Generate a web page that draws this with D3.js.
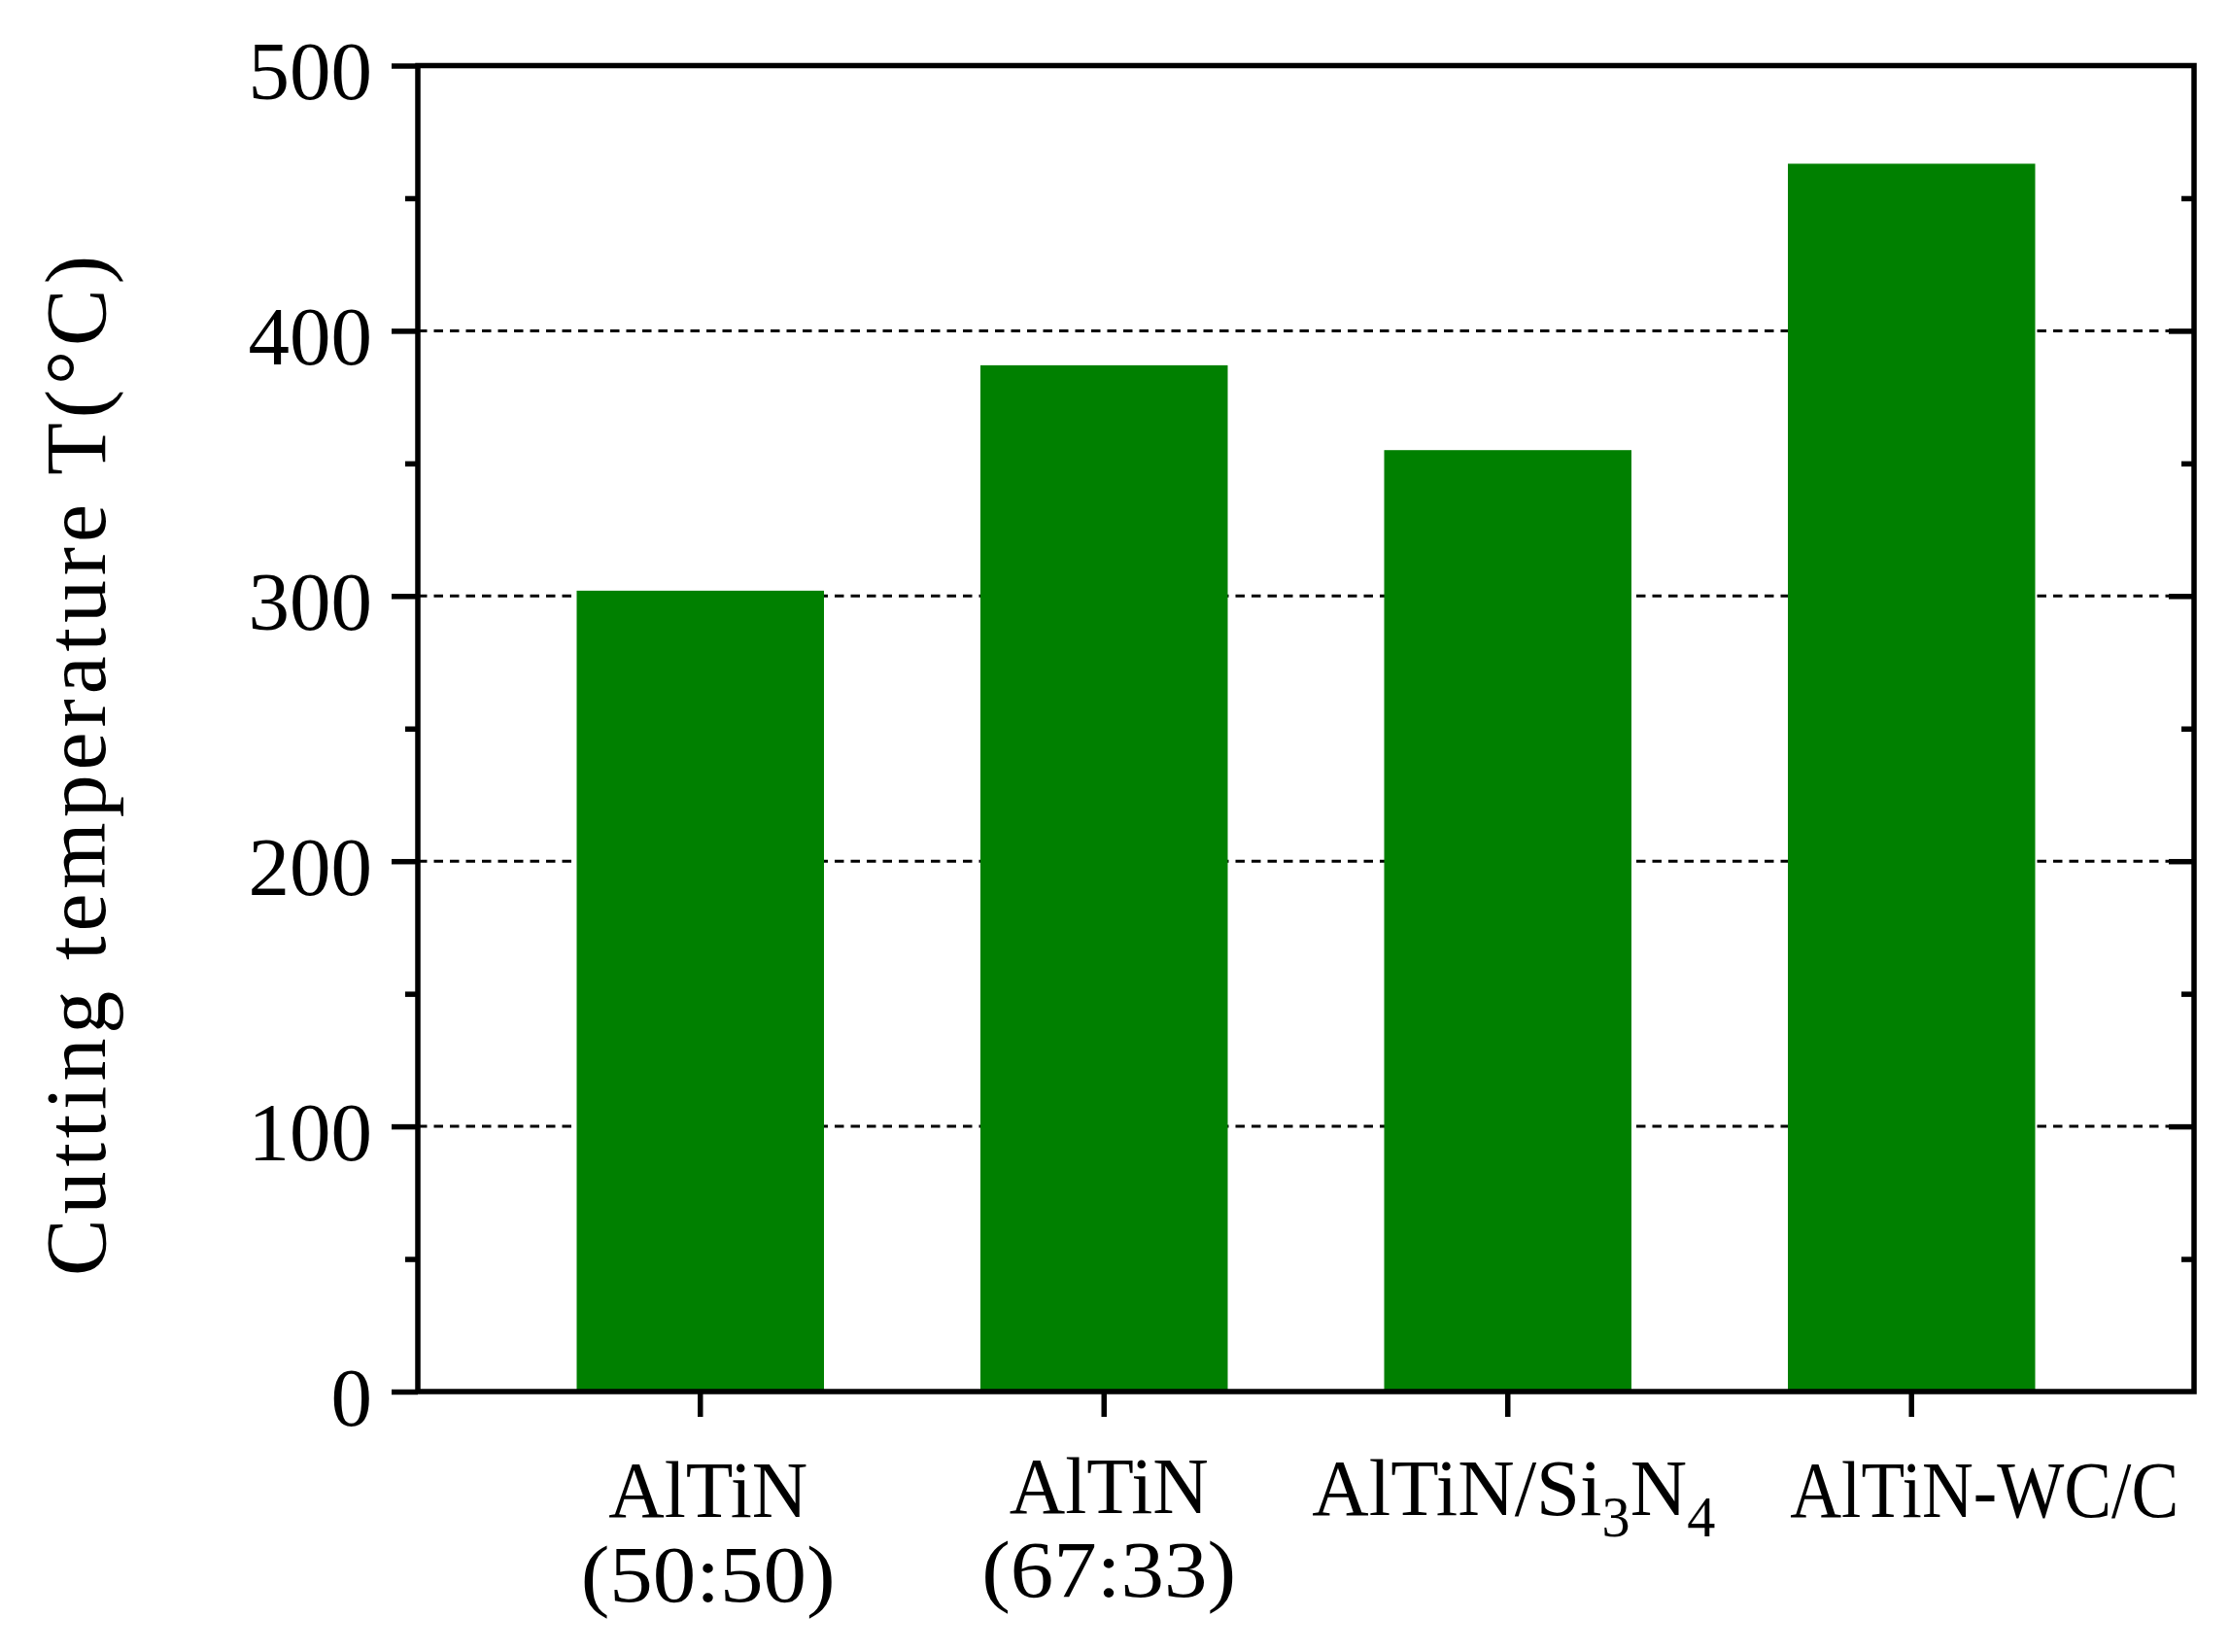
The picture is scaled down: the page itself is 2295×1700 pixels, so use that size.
<!DOCTYPE html>
<html>
<head>
<meta charset="utf-8">
<script src="https://cdn.jsdelivr.net/npm/d3@7"></script>
<style>
  html, body { margin: 0; padding: 0; background: #fff; }
  svg { display: block; }
  text { font-family: "Liberation Serif", "Times New Roman", serif; fill: #000; }
</style>
</head>
<body>
<svg id="chart" width="2295" height="1700"></svg>
<script>
// ---- data ----
const categories = ["AlTiN (50:50)", "AlTiN (67:33)", "AlTiN/Si3N4", "AlTiN-WC/C"];
const temperatures = [302, 387, 355, 463];
const majorTicks = [0, 100, 200, 300, 400, 500];
const minorTicks = [50, 150, 250, 350, 450];
const gridValues = [100, 200, 300, 400];
const yLabel = "Cutting temperature T(\u00B0C)";

// ---- layout ----
const W = 2295, H = 1700;
const L = 430, R = 2258, T = 67.5, B = 1432;
const green = "#008000";
const axisW = 5.5;

const svg = d3.select("#chart");

const x = d3.scaleBand().domain(categories).range([L, R])
  .paddingInner(0.3875).paddingOuter(0.3935);
const y = d3.scaleLinear().domain([0, 500]).range([B, T]);

// gridlines
svg.append("g").selectAll("line").data(gridValues).join("line")
  .attr("x1", L).attr("x2", R)
  .attr("y1", d => y(d)).attr("y2", d => y(d))
  .attr("stroke", "#000").attr("stroke-width", 3)
  .attr("stroke-dasharray", "9.5,7");

// bars
svg.append("g").selectAll("rect").data(categories).join("rect")
  .attr("x", d => x(d))
  .attr("width", x.bandwidth())
  .attr("y", (d, i) => y(temperatures[i]))
  .attr("height", (d, i) => y(0) - y(temperatures[i]))
  .attr("fill", green);

// left axis (major, outward)
const gl = svg.append("g").attr("transform", `translate(${L},0)`)
  .call(d3.axisLeft(y).tickValues(majorTicks).tickSize(27).tickSizeOuter(0).tickPadding(20));
gl.select(".domain").remove();
gl.selectAll(".tick line").attr("stroke", "#000").attr("stroke-width", axisW);
gl.selectAll(".tick text").attr("font-size", 85).attr("font-family", "Liberation Serif")
  .attr("dy", "0.4em");

// left axis minor
const glm = svg.append("g").attr("transform", `translate(${L},0)`)
  .call(d3.axisLeft(y).tickValues(minorTicks).tickSize(13).tickFormat(""));
glm.select(".domain").remove();
glm.selectAll(".tick line").attr("stroke", "#000").attr("stroke-width", axisW);

// right axis (inward)
const gr = svg.append("g").attr("transform", `translate(${R},0)`)
  .call(d3.axisLeft(y).tickValues(majorTicks.filter(v => v > 0 && v < 500)).tickSize(26).tickFormat(""));
gr.select(".domain").remove();
gr.selectAll(".tick line").attr("stroke", "#000").attr("stroke-width", axisW);
const grm = svg.append("g").attr("transform", `translate(${R},0)`)
  .call(d3.axisLeft(y).tickValues(minorTicks).tickSize(13).tickFormat(""));
grm.select(".domain").remove();
grm.selectAll(".tick line").attr("stroke", "#000").attr("stroke-width", axisW);

// bottom axis ticks
const gb = svg.append("g").attr("transform", `translate(0,${B})`)
  .call(d3.axisBottom(x).tickSize(26).tickSizeOuter(0).tickFormat(""));
gb.select(".domain").remove();
gb.selectAll(".tick line").attr("stroke", "#000").attr("stroke-width", axisW);

// frame
svg.append("rect").attr("x", L).attr("y", T).attr("width", R - L).attr("height", B - T)
  .attr("fill", "none").attr("stroke", "#000").attr("stroke-width", axisW);

// category labels
const labelShift = [8, 5, 6, 75];
const line1Y = 1561, line2Y = 1648, catFont = 82;
const cx = i => x(categories[i]) + x.bandwidth() / 2 + labelShift[i];

function simpleLabel(i, txt, yy, len) {
  svg.append("text").attr("x", cx(i)).attr("y", yy)
    .attr("text-anchor", "middle").attr("font-size", catFont)
    .attr("textLength", len).attr("lengthAdjust", "spacingAndGlyphs")
    .text(txt);
}
simpleLabel(0, "AlTiN", line1Y, 205);
simpleLabel(0, "(50:50)", line2Y, 262);
simpleLabel(1, "AlTiN", line1Y - 4, 205);
simpleLabel(1, "(67:33)", line2Y - 5, 262);

// AlTiN/Si3N4 with subscripts
const t3 = svg.append("text").attr("x", cx(2)).attr("y", line1Y - 2)
  .attr("text-anchor", "middle").attr("font-size", catFont)
  .attr("textLength", 415).attr("lengthAdjust", "spacingAndGlyphs");
t3.append("tspan").text("AlTiN/Si");
t3.append("tspan").attr("font-size", catFont * 0.72).attr("dy", 22).text("3");
t3.append("tspan").attr("dy", -22).text("N");
t3.append("tspan").attr("font-size", catFont * 0.72).attr("dy", 22).text("4");

simpleLabel(3, "AlTiN-WC/C", line1Y, 400);

// y label
svg.append("text")
  .attr("transform", `translate(108,788) rotate(-90)`)
  .attr("text-anchor", "middle").attr("font-size", 88)
  .attr("textLength", 1050).attr("lengthAdjust", "spacing")
  .text(yLabel);
</script>
</body>
</html>
